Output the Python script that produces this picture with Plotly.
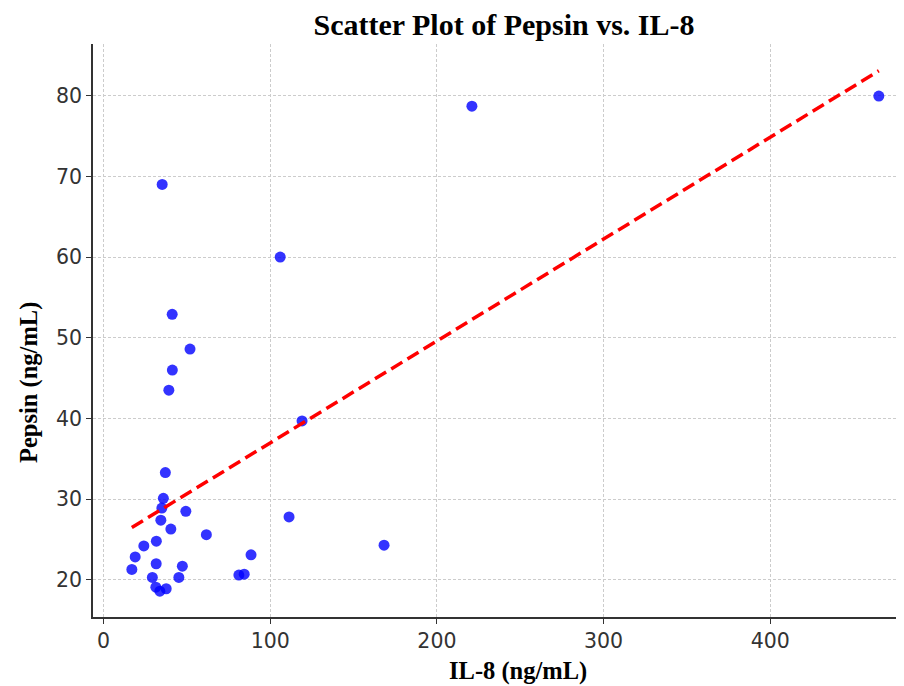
import numpy as np
import plotly.graph_objects as go

# Data
il8 = [51.9, 41.3, 39.2, 119.1, 37.1, 35.9, 35.0, 49.4, 34.4, 111.3, 40.4, 61.7,
       24.2, 31.7, 19.0, 17.0, 31.6, 47.3, 88.5, 29.3, 45.2, 81.2, 84.4, 31.4,
       33.8, 37.6, 35.2, 41.2, 106.0, 168.3, 221.0, 465.1]
pepsin = [48.6, 46.0, 43.5, 39.7, 33.3, 30.1, 28.9, 28.5, 27.4, 27.8, 26.3, 25.6,
          24.2, 24.8, 22.85, 21.3, 22.0, 21.7, 23.1, 20.3, 20.3, 20.6, 20.7, 19.1,
          18.6, 18.9, 69.0, 52.9, 60.0, 24.3, 78.7, 79.95]
x_ticks = [0, 100, 200, 300, 400]
y_ticks = [20, 30, 40, 50, 60, 70, 80]

xa = np.array(il8)
ya = np.array(pepsin)
slope, intercept = np.polyfit(xa, ya, 1)
fit_x = np.array([xa.min(), xa.max()])
fit_y = slope * fit_x + intercept

fig = go.Figure()
fig.add_trace(go.Scatter(
    x=il8, y=pepsin, mode="markers",
    marker=dict(color="rgba(0,0,255,0.8)", size=11, line=dict(width=0)),
    showlegend=False,
))
fig.add_trace(go.Scatter(
    x=fit_x, y=fit_y, mode="lines",
    line=dict(color="red", width=3.5, dash="13px,6px"),
    showlegend=False,
))

axis_common = dict(
    showline=True, linecolor="#333333", linewidth=1.5, mirror=False,
    ticks="outside", ticklen=5, tickwidth=1.2, tickcolor="#333333",
    showgrid=True, gridcolor="#cccccc", gridwidth=1, griddash="3px,2px",
    zeroline=False,
    tickfont=dict(family="DejaVu Sans", size=20.5, color="#333333"),
)

# The page adds an 8px body margin, so the figure is offset by 8px.
OFF = 8
W, H = 904 - OFF, 686 - OFF

fig.update_layout(
    width=W, height=H,
    margin=dict(l=93 - OFF, r=0, t=44 - OFF, b=H - (617 - OFF)),
    paper_bgcolor="white", plot_bgcolor="white",
    title=dict(
        text="<b>Scatter Plot of Pepsin vs. IL-8</b>",
        font=dict(family="Liberation Serif", size=30, color="black"),
        xref="container", x=(504 - OFF) / W, xanchor="center",
        yref="container", y=1 - (24 - OFF) / H, yanchor="middle",
    ),
    xaxis=dict(range=[-6.3, 480.2], tickvals=x_ticks, **axis_common),
    yaxis=dict(range=[15.4, 86.4], tickvals=y_ticks, **axis_common),
    annotations=[
        dict(text="<b>IL-8 (ng/mL)</b>", xref="paper", yref="paper",
             x=(518 - 93) / 811, y=(617 - 671) / 573, xanchor="center", yanchor="middle",
             showarrow=False, font=dict(family="Liberation Serif", size=24.5, color="black")),
        dict(text="<b>Pepsin (ng/mL)</b>", xref="paper", yref="paper",
             x=(29 - 93) / 811, y=(617 - 383) / 573, xanchor="center", yanchor="middle",
             textangle=-90, showarrow=False,
             font=dict(family="Liberation Serif", size=24.5, color="black")),
    ],
)

fig.write_html("out.html")
